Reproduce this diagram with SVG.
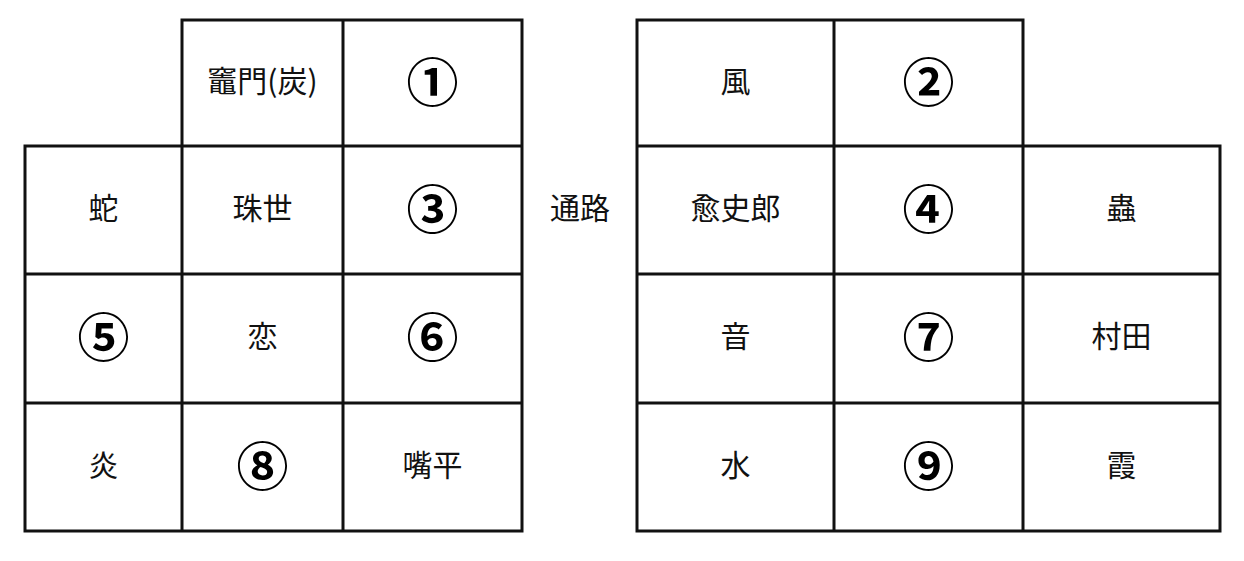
<svg xmlns="http://www.w3.org/2000/svg" width="1244" height="561" viewBox="0 0 1244 561">
<style>
.g{fill:none;stroke:#111;stroke-width:3;stroke-linecap:square}
.t{font-family:"Noto Sans CJK JP","Noto Sans CJK SC",sans-serif;font-size:30px;fill:#111;text-anchor:middle;dominant-baseline:central}
.n{font-family:"Noto Sans CJK JP","Noto Sans CJK SC",sans-serif;font-size:52px;font-weight:bold;fill:#000;text-anchor:middle;dominant-baseline:central}
</style>
<rect width="1244" height="561" fill="#fff"/>
<g id="connectors">
<g id="left-grid" class="g">
<path d="M182 20H522V531H25V146H522M25 274H522M25 403H522M182 20V531M343 20V531"/>
</g>
<g id="right-grid" class="g">
<path d="M637 20H1023V146H1220V531H637ZM637 146H1023M637 274H1220M637 403H1220M834 20V531M1023 146V531"/>
</g>
</g>
<g id="n-kamado"><text class="t" x="262.5" y="79">竈門(炭)</text></g>
<g id="n-1"><text class="n" x="432.5" y="79">①</text></g>
<g id="n-hebi"><text class="t" x="103.5" y="206">蛇</text></g>
<g id="n-tamayo"><text class="t" x="262.5" y="206">珠世</text></g>
<g id="n-3"><text class="n" x="432.5" y="206">③</text></g>
<g id="n-5"><text class="n" x="103.5" y="334">⑤</text></g>
<g id="n-koi"><text class="t" x="262.5" y="334">恋</text></g>
<g id="n-6"><text class="n" x="432.5" y="334">⑥</text></g>
<g id="n-hono"><text class="t" x="103.5" y="463">炎</text></g>
<g id="n-8"><text class="n" x="262.5" y="463">⑧</text></g>
<g id="n-inosuke"><text class="t" x="432.5" y="463">嘴平</text></g>
<g id="n-tsuro"><text class="t" x="580" y="206">通路</text></g>
<g id="n-kaze"><text class="t" x="735.5" y="79">風</text></g>
<g id="n-2"><text class="n" x="928.5" y="79">②</text></g>
<g id="n-yushiro"><text class="t" x="735.5" y="206">愈史郎</text></g>
<g id="n-4"><text class="n" x="928.5" y="206">④</text></g>
<g id="n-mushi"><text class="t" x="1121.5" y="206">蟲</text></g>
<g id="n-oto"><text class="t" x="735.5" y="334">音</text></g>
<g id="n-7"><text class="n" x="928.5" y="334">⑦</text></g>
<g id="n-murata"><text class="t" x="1121.5" y="334">村田</text></g>
<g id="n-mizu"><text class="t" x="735.5" y="463">水</text></g>
<g id="n-9"><text class="n" x="928.5" y="463">⑨</text></g>
<g id="n-kasumi"><text class="t" x="1121.5" y="463">霞</text></g>
</svg>
